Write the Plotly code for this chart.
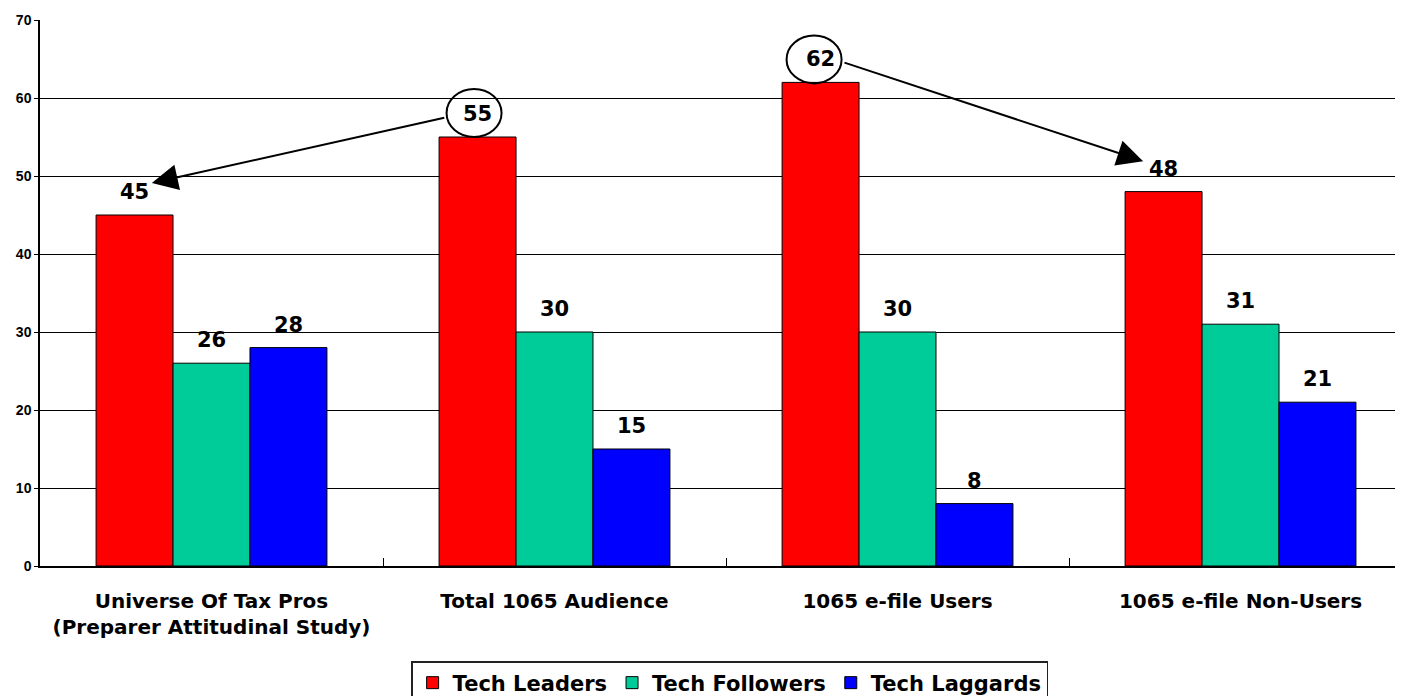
import plotly.graph_objects as go

categories = ["Universe Of Tax Pros<br>(Preparer Attitudinal Study)",
              "Total 1065 Audience", "1065 e-file Users", "1065 e-file Non-Users"]
series_names = ["Tech Leaders", "Tech Followers", "Tech Laggards"]
leaders = [45, 55, 62, 48]
followers = [26, 30, 30, 31]
laggards = [28, 15, 8, 21]
colors = ["#FF0000", "#00CC99", "#0000FF"]
circled = [(0, 1), (0, 2)]  # (series index, category index)

values = [leaders, followers, laggards]
FONT = "DejaVu Sans"

# pixel offsets of circles around circled labels (style)
circle_px = {(0, 1): (-31, 24, 0, 48), (0, 2): (-34, 21, -1, 47)}

fig = go.Figure()
for name, vals, col in zip(series_names, values, colors):
    fig.add_trace(go.Bar(x=categories, y=vals, name=name,
                         marker=dict(color=col, line=dict(color="black", width=1))))

bargap = 0.327
bw = (1 - bargap) / 3
offsets = [-bw, 0, bw]
annotations = []
shapes = []
for s, vals in enumerate(values):
    for i, v in enumerate(vals):
        xs = i + offsets[s]
        annotations.append(dict(x=xs, y=v, xref="x", yref="y", text=str(v),
                                showarrow=False, yshift=23,
                                font=dict(family=FONT, size=21, color="black", weight="bold")))
        if (s, i) in circled:
            x0, x1, y0, y1 = circle_px[(s, i)]
            shapes.append(dict(type="circle", xref="x", yref="y", xsizemode="pixel",
                               ysizemode="pixel", xanchor=xs, yanchor=v,
                               x0=x0, x1=x1, y0=y0, y1=y1,
                               line=dict(color="black", width=2), fillcolor="rgba(0,0,0,0)"))

# arrows between circled labels and neighbouring labels (tail x, tail y, head x, head y)
arrow_specs = [
    (0.683, 57.5, -0.174, 49.1),
    (1.841, 64.6, 2.716, 51.9),
]
for ax_, ay_, x_, y_ in arrow_specs:
    annotations.append(dict(x=x_, y=y_, ax=ax_, ay=ay_, xref="x", yref="y",
                            axref="x", ayref="y", text="", showarrow=True,
                            arrowhead=2, arrowsize=2.6, arrowwidth=2,
                            arrowcolor="black", standoff=0, startstandoff=0))

fig.update_layout(
    width=1403, height=696,
    margin=dict(l=32, r=0, t=12, b=138, autoexpand=False),
    paper_bgcolor="white", plot_bgcolor="white",
    barmode="group", bargap=bargap, bargroupgap=0,
    showlegend=True,
    legend=dict(orientation="h", x=0.503, xanchor="center", y=-0.174, yanchor="top",
                bordercolor="#222", borderwidth=1.5,
                font=dict(family=FONT, size=21, color="black", weight="bold"),
                tracegroupgap=0),
    annotations=annotations, shapes=shapes,
    font=dict(family=FONT, color="black"),
)
fig.update_xaxes(range=[-0.5, 3.497], showline=True, linecolor="black", linewidth=1.5,
                 ticks="inside", tickson="boundaries", ticklen=8, tickcolor="black",
                 tickfont=dict(family=FONT, size=20, color="black", weight="bold"),
                 ticklabelstandoff=16, showgrid=False, automargin=False)
fig.update_yaxes(range=[0, 70], dtick=10, showline=True, linecolor="black", linewidth=1.5,
                 ticks="outside", ticklen=4, tickcolor="black",
                 showgrid=True, gridcolor="black", gridwidth=1,
                 tickfont=dict(family="Liberation Sans", size=14, color="black", weight="bold"),
                 zeroline=False, automargin=False)

fig.write_html("out.html")
